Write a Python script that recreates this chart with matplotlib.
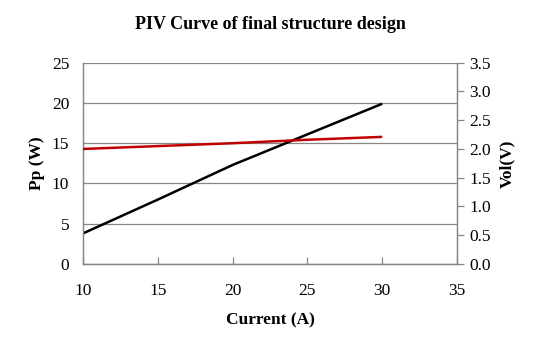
import matplotlib
matplotlib.use("Agg")
import matplotlib.pyplot as plt

plt.rcParams['font.family'] = ['Liberation Serif', 'DejaVu Serif']

# PIV measurements
current = [10, 15, 20, 25, 30]
power_w = [3.8, 8.0, 12.3, 16.1, 19.9]
voltage_v = [2.00, 2.05, 2.10, 2.16, 2.21]

GRID = '#868686'
FS = 12.5

fig = plt.figure(figsize=(5.52, 3.37), dpi=100)
ax = fig.add_axes([0.1504, 0.2166, 0.6775, 0.5974])
ax2 = ax.twinx()

ax.plot(current, power_w, color='black', lw=1.8, solid_capstyle='butt', zorder=3)
ax2.plot(current, voltage_v, color='#C00000', lw=1.8, solid_capstyle='butt', zorder=3)

ax.set_xlim(10, 35)
ax.set_ylim(0, 25)
ax2.set_ylim(0, 3.5)
ax.set_xticks(range(10, 36, 5))
ax.set_yticks(range(0, 26, 5))
ax2.set_yticks([i * 0.5 for i in range(8)])
ax2.set_yticklabels([f'{i * 0.5:.1f}' for i in range(8)])

ax.yaxis.grid(True, color=GRID, lw=0.9)
ax.set_axisbelow(True)

for a in (ax, ax2):
    for s in a.spines.values():
        s.set_color(GRID)
        s.set_linewidth(0.9)
    a.spines['top'].set_visible(False)

ax.tick_params(axis='x', direction='in', length=5, color=GRID, width=0.9,
               labelsize=FS, pad=14)
ax.tick_params(axis='y', length=0, labelsize=FS, pad=10)
ax2.tick_params(axis='y', direction='out', length=5, color=GRID, width=0.9,
                labelsize=FS, pad=4)

ax.set_xlabel('Current (A)', fontsize=FS, fontweight='bold', labelpad=9)
ax.set_ylabel('Pp (W)', fontsize=FS, fontweight='bold', labelpad=5)
ax2.set_ylabel('Vol(V)', fontsize=FS, fontweight='bold', labelpad=6)
ax.set_title('PIV Curve of final structure design', fontsize=13,
             fontweight='bold', pad=24)

fig.savefig('out.png', dpi=100)
